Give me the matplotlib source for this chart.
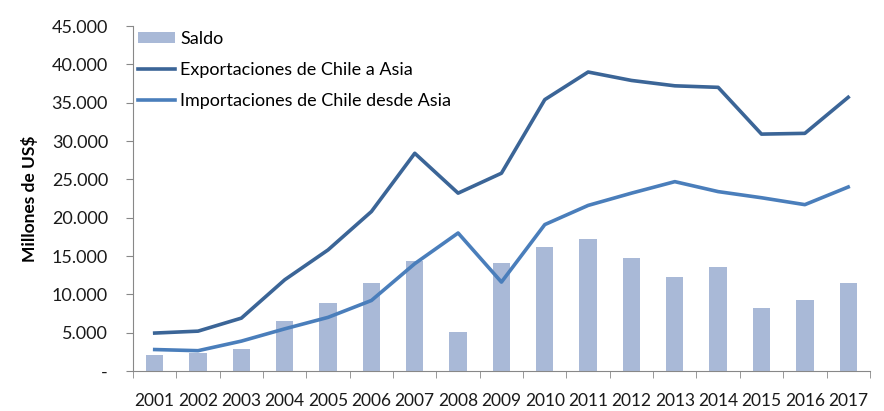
import numpy as np
import matplotlib
matplotlib.use('Agg')
import matplotlib.pyplot as plt
from matplotlib.ticker import FuncFormatter

plt.rcParams['font.family'] = ['Lato', 'DejaVu Sans']

years = [str(y) for y in range(2001, 2018)]
saldo = [2100, 2400, 2900, 6500, 8900, 11500, 14300, 5100, 14100, 16200,
         17200, 14700, 12300, 13600, 8200, 9200, 11500]
exportaciones = [4950, 5200, 6900, 11900, 15800, 20800, 28400, 23200, 25800, 35400,
                 39000, 37900, 37200, 37000, 30900, 31000, 35700]
importaciones = [2800, 2650, 3900, 5500, 7000, 9200, 14000, 18000, 11600, 19100,
                 21600, 23200, 24700, 23400, 22600, 21700, 24000]

x = np.arange(len(years))

fig = plt.figure(figsize=(8.84, 4.11), dpi=100)
ax = fig.add_axes([0.1505, 0.0973, 0.8335, 0.8394])

ax.bar(x, saldo, width=0.4, color='#a9b9d7', label='Saldo', zorder=2)
ax.plot(x, exportaciones, color='#3b6597', lw=2.6, label='Exportaciones de Chile a Asia', zorder=3)
ax.plot(x, importaciones, color='#4a7ebb', lw=2.6, label='Importaciones de Chile desde Asia', zorder=3)

ax.set_xlim(-0.5, len(years) - 0.5)
ax.set_ylim(0, 45000)
ax.set_yticks(np.arange(0, 45001, 5000))
ax.yaxis.set_major_formatter(FuncFormatter(
    lambda v, p: '-' if v == 0 else f'{int(v):,}'.replace(',', '.')))

ax.set_xticks(x)
ax.set_xticklabels(years)
ax.set_xticks(np.arange(-0.5, len(years)), minor=True)
ax.tick_params(axis='x', which='major', length=0, pad=16, labelsize=12.5, colors='#1a1a1a')
ax.tick_params(axis='x', which='minor', length=5, color='#888888')
ax.tick_params(axis='y', length=5, pad=13, labelsize=13, color='#888888', labelcolor='#1a1a1a')

for s in ['top', 'right']:
    ax.spines[s].set_visible(False)
for s in ['left', 'bottom']:
    ax.spines[s].set_color('#888888')

ax.set_ylabel('Millones de US$', fontsize=12.5, fontweight='bold', labelpad=10)

handles, labels = ax.get_legend_handles_labels()
order = [2, 0, 1]
ax.legend([handles[i] for i in order], [labels[i] for i in order],
          loc='upper left', bbox_to_anchor=(0.0, 1.0), frameon=False, fontsize=13,
          handlelength=2.1, handleheight=0.55, handletextpad=0.25, labelspacing=0.85,
          borderaxespad=0.05, borderpad=0.2)

fig.savefig('out.png', dpi=100)
